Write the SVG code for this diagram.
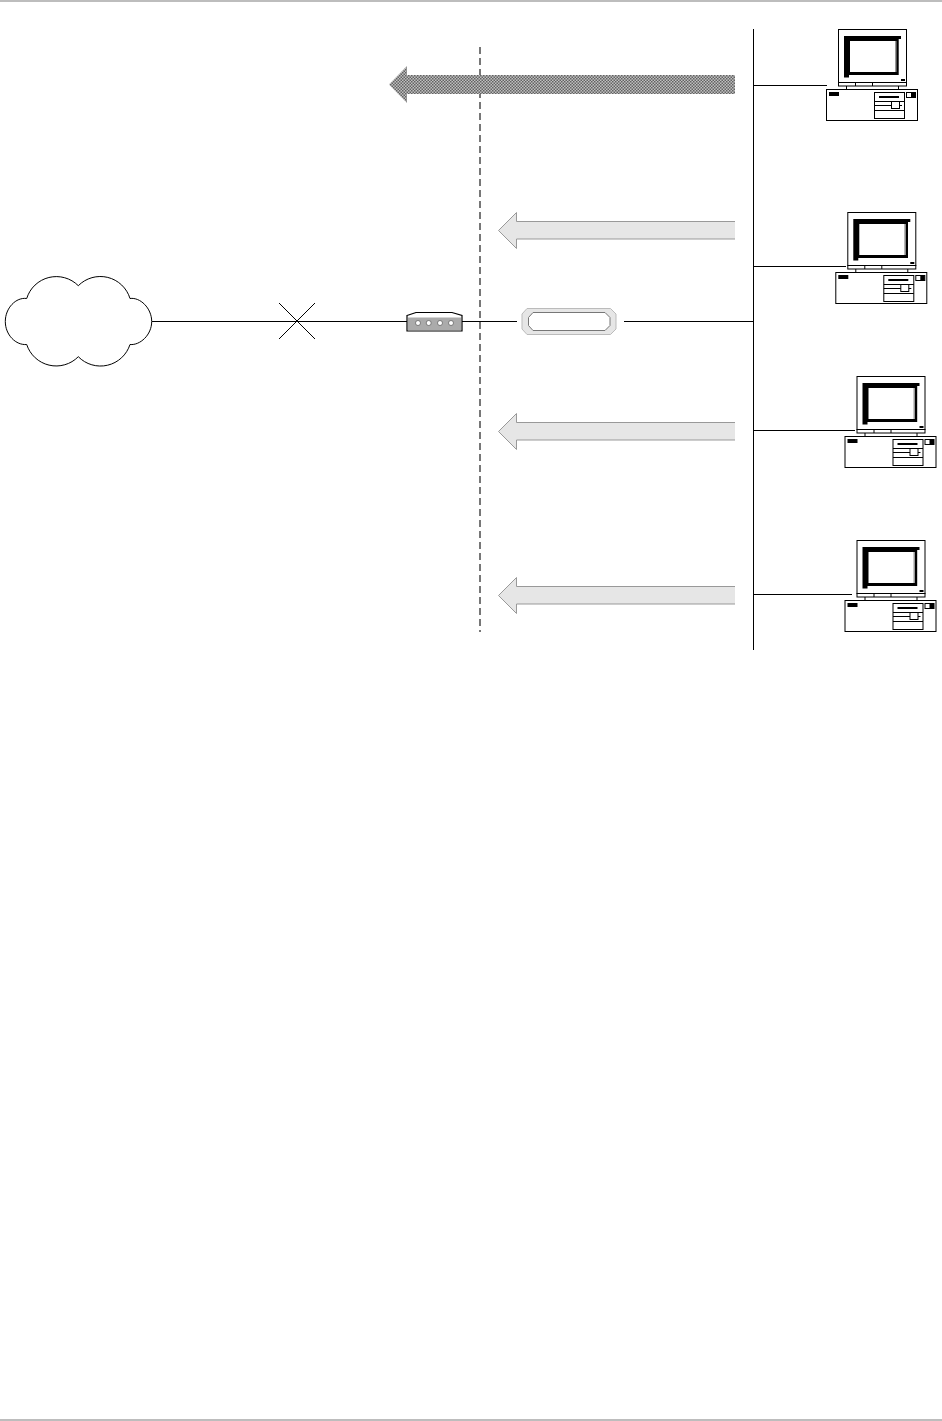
<svg xmlns="http://www.w3.org/2000/svg" width="942" height="1421" viewBox="0 0 942 1421">
<style>
.ln{fill:none;stroke:#000;stroke-width:1}
.box{fill:#fff;stroke:#000;stroke-width:1}
.thick{fill:#000;stroke:none}
.light{fill:#e6e6e6;stroke:#999;stroke-width:1}
.led{fill:#fff;stroke:#555;stroke-width:.7}
</style>
<defs>
<pattern id="chk" width="3" height="3" patternUnits="userSpaceOnUse">
<rect width="3" height="3" fill="#c0c0c0"/>
<rect width="1.500" height="1.500" fill="#626262"/>
<rect x="1.500" y="1.500" width="1.500" height="1.500" fill="#626262"/>
</pattern>
<g id="pc">
<rect class="box" x="838.500" y="29.500" width="68" height="53"/>
<rect class="box" x="838.500" y="82.500" width="68" height="3.500"/>
<path class="ln" d="M855.500 82.500V86M872.500 82.500V86M846.500 86V89.500M898.500 86V89.500"/>
<path class="thick" d="M844 36H901V39H898.700V75H849V77.500H844Z"/>
<rect x="850" y="41" width="46" height="31" fill="#fff"/>
<rect x="895" y="41" width="1.500" height="31" fill="#999"/>
<rect x="901" y="79" width="4" height="2" fill="#000"/>
<rect class="box" x="826.500" y="89.500" width="91" height="31"/>
<rect x="829" y="92" width="10" height="4" fill="#000"/>
<rect class="box" x="874.500" y="92.500" width="30" height="26"/>
<path class="ln" d="M874.500 101.500H904.500M874.500 105.500H902M874.500 110.500H904.500"/>
<rect x="879" y="96" width="20" height="2" fill="#000"/>
<rect class="box" x="891.500" y="101.500" width="8" height="7"/>
<rect class="box" x="906.500" y="92.500" width="9" height="5"/>
<rect x="911" y="93" width="4.500" height="4.500" fill="#000"/>
</g>
<path id="lightArrow" class="light" d="M735 221.500H516.500V212.500L498.500 230.500L516.500 248.500V239H735"/>
</defs>
<rect width="942" height="1421" fill="#fff"/>
<rect x="0" y="0" width="942" height="2" fill="#bdbdbd"/>
<rect x="0" y="1419" width="942" height="2" fill="#bdbdbd"/>
<g id="connectors">
<path class="ln" d="M152 321.500H407M462 321.500H517M624 321.500H753M753.500 29V650"/>
<path class="ln" d="M279 303L315 339M315 303L279 339"/>
<path class="ln" d="M753 85.500H827M753 266.500H846M753 430.500H855M753 594.500H852"/>
<path d="M480 47V632" fill="none" stroke="#777" stroke-width="2" stroke-dasharray="7 4"/>
</g>
<g id="uplink-arrow">
<path d="M735 75H407V66L389 84.500L407 103V94H735Z" fill="url(#chk)"/>
</g>
<g id="arrow-2"><use href="#lightArrow"/></g>
<g id="arrow-3"><use href="#lightArrow" y="201"/></g>
<g id="arrow-4"><use href="#lightArrow" y="365"/></g>
<g id="cloud">
<path class="box" d="M26.700 298.500A31 31 0 0 1 78.300 285.700A31 31 0 0 1 130 298.500C140 297 151.700 308 151.700 321.500C151.700 335 140 345.500 130 344.500A31 31 0 0 1 78.300 356.700A31 31 0 0 1 26.700 344.500C16 345.500 5.300 335 5.300 321.500C5.300 308 16 297 26.700 298.500Z"/>
</g>
<g id="hub">
<path d="M407 315.500L416 312.500H452L462 315.500V331H407Z" fill="#fff" stroke="#000" stroke-width="1.200"/>
<rect x="408" y="317.500" width="53" height="12.500" fill="#ababab"/>
<circle class="led" cx="418" cy="323" r="2.500"/>
<circle class="led" cx="428.700" cy="323" r="2.500"/>
<circle class="led" cx="440" cy="323" r="2.500"/>
<circle class="led" cx="451" cy="323" r="2.500"/>
</g>
<g id="firewall">
<path d="M527 308.500H610.500L616 314V329L610.500 334.500H527L522 329V314Z" fill="#e6e6e6" stroke="#bbb"/>
<path d="M533 312.500H605L610 317.500V325.500L605 330.500H533L528.500 325.500V317.500Z" fill="#fff" stroke="#777"/>
</g>
<g id="pc-1"><use href="#pc"/></g>
<g id="pc-2"><use href="#pc" x="9.300" y="183"/></g>
<g id="pc-3"><use href="#pc" x="18.500" y="347"/></g>
<g id="pc-4"><use href="#pc" x="18.500" y="511"/></g>
</svg>
